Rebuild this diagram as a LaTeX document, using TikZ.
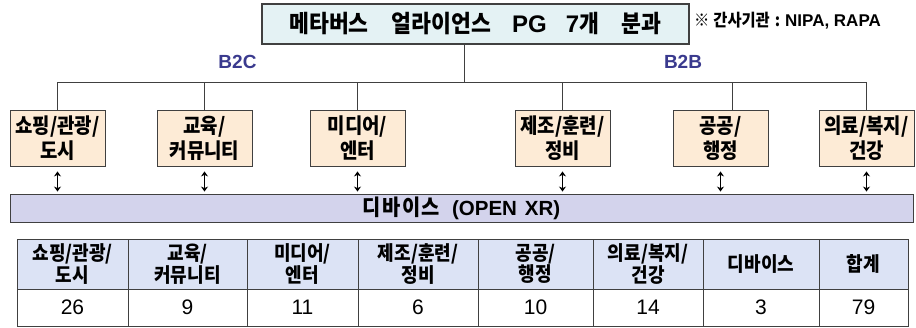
\documentclass[tikz,border=0pt]{standalone}
\usepackage{fontspec}
\setmainfont{Noto Sans CJK KR}
\newfontfamily\krn[FakeStretch=0.9]{Noto Sans CJK KR}
\newfontfamily\lat{Liberation Sans}
\usetikzlibrary{arrows.meta}
\definecolor{titlefill}{HTML}{E4F2F4}
\definecolor{boxfill}{HTML}{FDEBD6}
\definecolor{barfill}{HTML}{D3D3EC}
\definecolor{headfill}{HTML}{DCE3F5}
\definecolor{navy}{HTML}{3A3A8E}
\definecolor{linegray}{HTML}{404040}
\tikzset{
  catbox/.style={draw=linegray, line width=0.9pt, fill=boxfill, minimum width=95pt, minimum height=56pt, inner sep=0pt, align=center, font=\krn\bfseries\fontsize{21}{25}\selectfont},
  busline/.style={draw=linegray, line width=0.8pt},
  dblarrow/.style={<->, line width=1.3pt, >={Stealth[length=5pt,width=7pt]}},
  headcell/.style={draw=linegray, line width=0.9pt, fill=headfill, minimum height=50pt, inner sep=0pt, align=center, font=\krn\bfseries\fontsize{20}{20.5}\selectfont},
  valcell/.style={draw=linegray, line width=0.9pt, fill=white, minimum height=37pt, inner sep=0pt, align=center, font=\lat\fontsize{21}{22}\selectfont},
  grplabel/.style={text=navy, font=\lat\bfseries\fontsize{19}{21}\selectfont, inner sep=0pt}
}
\begin{document}
\begin{tikzpicture}[x=1pt, y=-1pt]
\path[use as bounding box] (0,0) rectangle (916,327);
% title
\node[draw=linegray, line width=1.1pt, fill=titlefill, minimum width=427pt, minimum height=40pt, inner sep=0pt, font=\krn\bfseries\fontsize{24}{25}\selectfont] (title) at (475.5,24) {메타버스\hspace{23pt}얼라이언스\hspace{21pt}{\lat PG}\hspace{19pt}{\lat 7}개\hspace{23pt}분과};
\node[anchor=west, inner sep=0pt, font=\krn\bfseries\fontsize{17}{18}\selectfont] (note) at (694,21) {※\hspace{4pt}간사기관\hspace{5pt}:\hspace{5pt}{\lat NIPA, RAPA}};
\node[grplabel] (b2c) at (237.5,62) {B2C};
\node[grplabel] (b2b) at (683,62) {B2B};
% boxes
\node[catbox] (c1) at (57.5,138) {쇼핑/관광/\\도시};
\node[catbox] (c2) at (204.5,138) {교육/\\커뮤니티};
\node[catbox] (c3) at (357.5,138) {미디어/\\엔터};
\node[catbox] (c4) at (562.5,138) {제조/훈련/\\정비};
\node[catbox] (c5) at (720.5,138) {공공/\\행정};
\node[catbox] (c6) at (866.5,138) {의료/복지/\\건강};
% bus
\coordinate (bl) at (57.5,82);
\coordinate (br) at (866.5,82);
\coordinate (bm) at (464,82);
\coordinate (v5) at (732,82);
\draw[busline] (bl) -- (br);
\draw[busline] (title.south -| bm) -- (bm);
\draw[busline] (bl) -- (c1.north);
\draw[busline] (c2.north |- bl) -- (c2.north);
\draw[busline] (c3.north |- bl) -- (c3.north);
\draw[busline] (c4.north |- bl) -- (c4.north);
\draw[busline] (v5) -- (v5 |- c5.north);
\draw[busline] (br) -- (c6.north);
% device bar
\node[draw=linegray, line width=0.9pt, fill=barfill, minimum width=903pt, minimum height=28pt, inner sep=0pt, font=\krn\bfseries\fontsize{22}{23}\selectfont] (bar) at (461.5,208) {디\hspace{1.5pt}바\hspace{1.5pt}이\hspace{1.5pt}스\hspace{12pt}{\lat\fontsize{20.5}{22}\selectfont (OPEN\hspace{8pt}XR)}};
% arrows
\foreach \c in {c1,c2,c3,c4,c5,c6}{
  \draw[dblarrow, shorten <=5pt, shorten >=2pt] (\c.south) -- (\c.south |- bar.north);
}
% table header
\node[headcell, minimum width=111pt] (h1) at (72.5,264) {쇼핑/관광/\\도시};
\node[headcell, minimum width=119pt] (h2) at (187.5,264) {교육/\\커뮤니티};
\node[headcell, minimum width=111pt] (h3) at (302.5,264) {미디어/\\엔터};
\node[headcell, minimum width=120pt] (h4) at (418,264) {제조/훈련/\\정비};
\node[headcell, minimum width=115pt] (h5) at (535.5,264) {공공/\\행정};
\node[headcell, minimum width=110pt] (h6) at (648,264) {의료/복지/\\건강};
\node[headcell, minimum width=116pt] (h7) at (761,264) {디바이스};
\node[headcell, minimum width=89pt] (h8) at (863.5,264) {합계};
% table values
\node[valcell, minimum width=111pt] (v1) at (72.5,307.5) {26};
\node[valcell, minimum width=119pt] (v2) at (187.5,307.5) {9};
\node[valcell, minimum width=111pt] (v3) at (302.5,307.5) {11};
\node[valcell, minimum width=120pt] (v4) at (418,307.5) {6};
\node[valcell, minimum width=115pt] (v5n) at (535.5,307.5) {10};
\node[valcell, minimum width=110pt] (v6) at (648,307.5) {14};
\node[valcell, minimum width=116pt] (v7) at (761,307.5) {3};
\node[valcell, minimum width=89pt] (v8) at (863.5,307.5) {79};
\end{tikzpicture}
\end{document}
